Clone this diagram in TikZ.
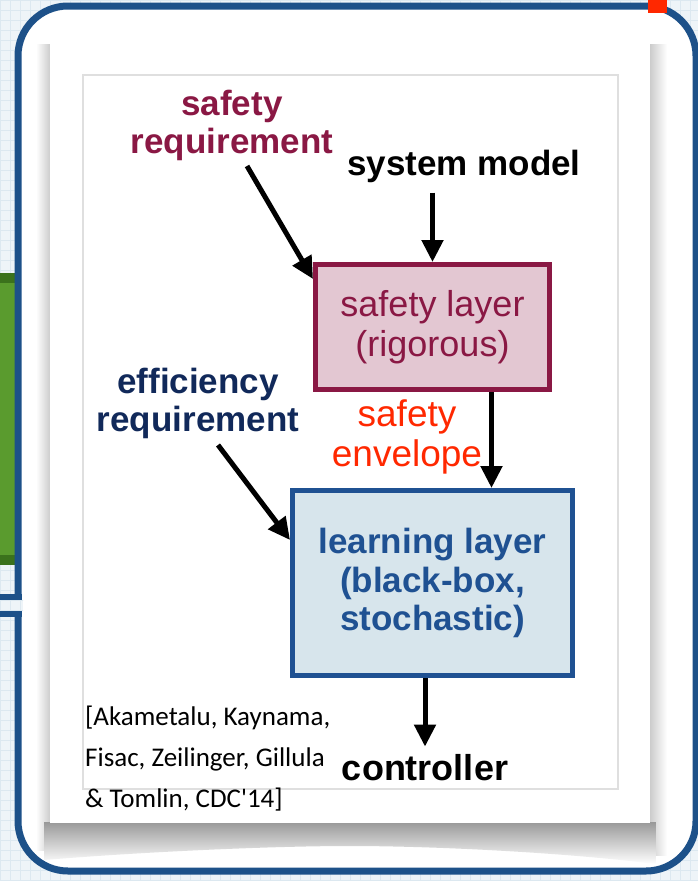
\documentclass[tikz,border=0pt]{standalone}
\usepackage{fontspec}
\setmainfont{Liberation Sans}
\newfontfamily\citefont{Carlito}
\usetikzlibrary{arrows.meta,calc}

\definecolor{slidebg}{HTML}{EEF4F8}
\definecolor{slidegrid}{HTML}{DCE8F0}
\definecolor{framebl}{HTML}{1D5189}
\definecolor{safemaroon}{HTML}{8A1844}
\definecolor{safefill}{HTML}{E3C7D2}
\definecolor{effnavy}{HTML}{11295A}
\definecolor{learnbl}{HTML}{1F5192}
\definecolor{learnfill}{HTML}{D7E5EC}
\definecolor{envred}{HTML}{FF2800}
\definecolor{tabgreen}{HTML}{5A9B2E}
\definecolor{tabdark}{HTML}{3B721C}

\begin{document}
\begin{tikzpicture}[x=1pt,y=1pt]
\tikzstyle{every node}+=[inner sep=0pt]
\tikzstyle{flow}=[line width=5pt,-{Triangle[length=22pt,width=21pt]}]
\tikzstyle{lbl}=[align=center,font=\fontsize{35}{38}\selectfont\bfseries]
\tikzstyle{layerbox}=[draw,line width=5pt,align=center]

\useasboundingbox (0,0) rectangle (698,-881);
\fill [slidebg] (0,0) rectangle (698,-881);
\draw [slidegrid,line width=0.7pt,step=10] (0,-881) grid (698,0);

% slides peeking out on the left
\fill [tabgreen] (0,-273) rectangle (16,-565);
\fill [tabdark] (0,-273) rectangle (16,-283);
\fill [tabdark] (0,-555) rectangle (16,-565);

% slide frame
\draw [framebl,line width=7pt,fill=white,rounded corners=50pt] (18,-6) rectangle (696,-871);
\fill [envred] (648,0) rectangle (667,-13);
\begin{scope}
\clip (0,-600) rectangle (23,-611);
\fill [slidebg] (0,-600) rectangle (23,-611);
\draw [slidegrid,line width=0.7pt,step=10] (0,-881) grid (698,0);
\end{scope}
\fill [framebl] (0,-594) rectangle (22,-600);
\fill [framebl] (0,-611) rectangle (22,-617);

% paper with shadows
\shade [left color=white,right color=gray!40] (36,-44) rectangle (50,-850);
\shade [left color=gray!40,right color=white] (650,-44) rectangle (667,-855);
\shade [top color=gray!80,bottom color=white] (44,-822) -- (656,-822) -- (656,-864)
  .. controls (560,-852) and (430,-846) .. (350,-846)
  .. controls (270,-846) and (140,-852) .. (44,-860) -- cycle;
\fill [white] (50,-40) rectangle (650,-823);
\draw [gray!25,line width=1.2pt] (83,-75) rectangle (618,-789);

% inputs
\node [lbl,text=safemaroon] (sreq) at (232,-125) {safety\\requirement};
\node [lbl,text=black] (sysmod) at (464,-166) {system model};
\node [lbl,text=effnavy] (ereq) at (198,-403) {efficiency\\requirement};

% the two layers
\node [layerbox,draw=safemaroon,fill=safefill,text=safemaroon,
  minimum width=234pt,minimum height=125pt,
  font=\fontsize{36}{40}\selectfont] (slayer) at (432.5,-327) {safety layer\\(rigorous)};
\node [layerbox,draw=learnbl,fill=learnfill,text=learnbl,
  minimum width=280pt,minimum height=185pt,
  font=\fontsize{35}{38.5}\selectfont\bfseries] (llayer) at (432.5,-583) {learning layer\\(black-box,\\stochastic)};

\node [align=center,text=envred,font=\fontsize{37}{40}\selectfont] (senv) at (407,-437) {safety\\envelope};
\node [font=\fontsize{36}{40}\selectfont\bfseries] (ctrl) at (425,-768) {controller};

\node [anchor=north west,align=left,font=\citefont\fontsize{27}{41}\selectfont] (cite) at (85,-706)
  {[Akametalu, Kaynama,\\Fisac, Zeilinger, Gillula\\\& Tomlin, CDC'14]};

% arrows
\coordinate (sreqtail) at (247,-166);
\coordinate (ereqtail) at (218,-445);
\draw [flow] (sreqtail) -- ($(slayer.north west)+(0,-17)$);
\draw [flow] ($(slayer.north |- sysmod.south)+(0,-10)$) -- (slayer.north);
\draw [flow] ($(slayer.south)+(59,0)$) -- ($(llayer.north)+(59,0)$);
\draw [flow] (ereqtail) -- ($(llayer.north west)+(0,-52)$);
\draw [flow] (llayer.south -| ctrl.north) -- ($(ctrl.north)+(0,8)$);
\end{tikzpicture}
\end{document}
